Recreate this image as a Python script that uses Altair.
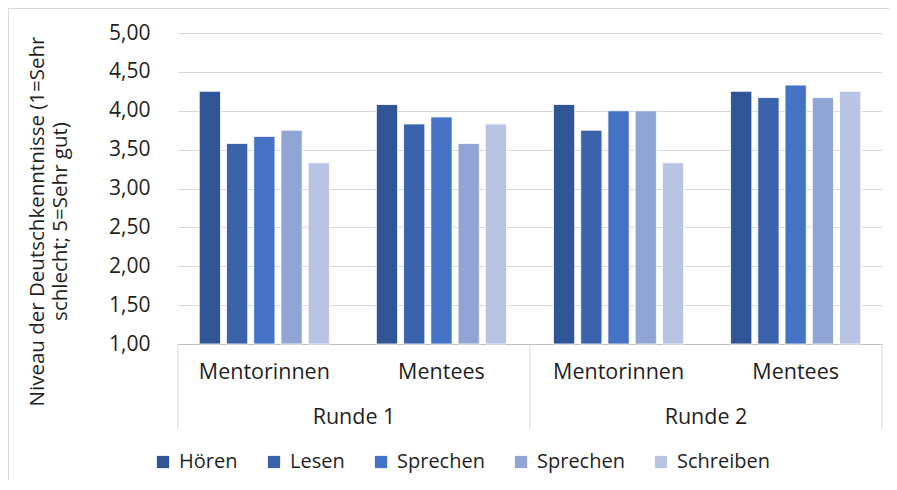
import json
import altair as alt
import pandas as pd

# ---- data ----
runden = ["Runde 1", "Runde 1", "Runde 2", "Runde 2"]
gruppen = ["Mentorinnen", "Mentees", "Mentorinnen", "Mentees"]
series = ["Hören", "Lesen", "Sprechen", "Sprechen", "Schreiben"]
values = [
    [4.25, 3.58, 3.67, 3.75, 3.33],   # Runde 1 Mentorinnen
    [4.08, 3.83, 3.92, 3.58, 3.83],   # Runde 1 Mentees
    [4.08, 3.75, 4.00, 4.00, 3.33],   # Runde 2 Mentorinnen
    [4.25, 4.17, 4.33, 4.17, 4.25],   # Runde 2 Mentees
]
y_ticks = [1.0, 1.5, 2.0, 2.5, 3.0, 3.5, 4.0, 4.5, 5.0]
colors = ["#2F5597", "#3A63AC", "#4472C4", "#90A5D5", "#B9C3E3"]

keys = [f"s{i}" for i in range(len(series))]
group_keys = [f"{r}|{g}" for r, g in zip(runden, gruppen)]

rows = []
for gk, vals in zip(group_keys, values):
    for k, v in zip(keys, vals):
        rows.append({"group": gk, "key": k, "value": v})
df = pd.DataFrame(rows)

runde_df = pd.DataFrame({"Runde": ["Runde 1", "Runde 2"]})
edge_df = pd.DataFrame({"edge": [0, 1, 2]})

W, H = 704, 311
PAD_L, PAD_T, PAD_R, PAD_B = 170, 25, 7, 136
FONT = "Open Sans"
TXT = "#1F1F1F"

label_expr = f"{json.dumps(series)}[indexof({json.dumps(keys)}, datum.value)]"

bars = alt.Chart(df).mark_bar(stroke="#FFFFFF", strokeWidth=1, strokeOpacity=0.8).encode(
    x=alt.X("group:N", sort=group_keys, title=None,
            scale=alt.Scale(paddingInner=0.265, paddingOuter=0.12),
            axis=alt.Axis(labelExpr="split(datum.value, '|')[1]", labelAngle=0,
                          ticks=False, domain=True, domainColor="#BFBFBF",
                          labelFontSize=21.5, labelFont=FONT, labelColor=TXT,
                          labelPadding=17, labelBaseline="top", grid=False)),
    xOffset=alt.XOffset("key:N", sort=keys,
                        scale=alt.Scale(paddingInner=0.22, paddingOuter=0)),
    y=alt.Y("value:Q", scale=alt.Scale(domain=[1, 5], nice=False, zero=False),
            axis=alt.Axis(values=y_ticks,
                          labelExpr="replace(format(datum.value, '.2f'), '.', ',')",
                          title=["Niveau der Deutschkenntnisse (1=Sehr", "schlecht; 5=Sehr gut)"],
                          titleAngle=270, titleAlign="center", titleBaseline="top",
                          titleX=-151, titleY=188, titleFontSize=20.5, titleFont=FONT,
                          titleFontWeight="normal", titleColor=TXT, titleLineHeight=23,
                          labelFontSize=21, labelFont=FONT, labelColor=TXT,
                          labelPadding=28, ticks=False, domain=False,
                          grid=True, gridColor="#D9D9D9", gridWidth=1)),
    y2=alt.datum(1),
    color=alt.Color("key:N", sort=keys,
                    scale=alt.Scale(domain=keys, range=colors),
                    legend=alt.Legend(title=None, orient="none", direction="horizontal",
                                      legendX=-25, legendY=419, labelExpr=label_expr,
                                      symbolType="square", symbolSize=150,
                                      symbolStrokeWidth=0, labelFontSize=20,
                                      labelFont=FONT, labelColor=TXT,
                                      columnPadding=26, labelOffset=6, padding=0)),
)

runde_text = alt.Chart(runde_df).mark_text(
    fontSize=21.5, font=FONT, color=TXT, baseline="top", align="center"
).encode(
    x=alt.X("Runde:N", axis=None, scale=alt.Scale(paddingInner=0, paddingOuter=0)),
    y=alt.value(H + 63),
    text="Runde:N",
)

separators = alt.Chart(edge_df).mark_rule(color="#D9D9D9", strokeWidth=1).encode(
    x=alt.X("edge:Q", axis=None, scale=alt.Scale(domain=[0, 2], nice=False, zero=False)),
    y=alt.value(H),
    y2=alt.value(H + 86),
)

# light chart-area frame (top and left edges, as in the reference)
frame_top = alt.Chart(runde_df).mark_rule(color="#D9D9D9", strokeWidth=1).encode(
    x=alt.value(-PAD_L + 0.5), x2=alt.value(W + PAD_R), y=alt.value(-PAD_T + 0.5),
)
frame_left = alt.Chart(runde_df).mark_rule(color="#D9D9D9", strokeWidth=1).encode(
    x=alt.value(-PAD_L + 0.5), y=alt.value(-PAD_T + 0.5), y2=alt.value(H + PAD_B),
)

chart = alt.layer(bars, separators, runde_text, frame_top, frame_left).resolve_scale(
    x="independent"
).properties(
    width=W, height=H,
    autosize=alt.AutoSizeParams(type="none"),
    padding={"left": PAD_L, "top": PAD_T, "right": PAD_R, "bottom": PAD_B},
).configure_view(strokeWidth=0)

chart.save("out.html", embed_options={"renderer": "svg", "actions": False})
